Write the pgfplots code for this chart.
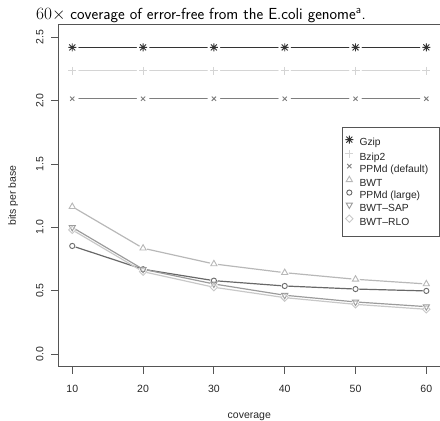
\documentclass[border=0pt]{standalone}
\usepackage{fontspec}
\setmainfont{Liberation Sans}
\usepackage{pgfplots}
\pgfplotsset{compat=1.18}

\definecolor{cGzip}{HTML}{333333}
\definecolor{cBzip}{HTML}{D4D4D4}
\definecolor{cPPMd}{HTML}{7E7E7E}
\definecolor{cBWT}{HTML}{B8B8B8}
\definecolor{cPPMdL}{HTML}{686868}
\definecolor{cSAP}{HTML}{9C9C9C}
\definecolor{cRLO}{HTML}{C8C8C8}
\definecolor{frame}{HTML}{555555}

% R's pch 8: a + and a x on top of each other
\pgfdeclareplotmark{rast}{%
  \pgfpathmoveto{\pgfqpoint{-\pgfplotmarksize}{0pt}}%
  \pgfpathlineto{\pgfqpoint{\pgfplotmarksize}{0pt}}%
  \pgfpathmoveto{\pgfqpoint{0pt}{-\pgfplotmarksize}}%
  \pgfpathlineto{\pgfqpoint{0pt}{\pgfplotmarksize}}%
  \pgfpathmoveto{\pgfqpoint{-.75\pgfplotmarksize}{-.75\pgfplotmarksize}}%
  \pgfpathlineto{\pgfqpoint{.75\pgfplotmarksize}{.75\pgfplotmarksize}}%
  \pgfpathmoveto{\pgfqpoint{-.75\pgfplotmarksize}{.75\pgfplotmarksize}}%
  \pgfpathlineto{\pgfqpoint{.75\pgfplotmarksize}{-.75\pgfplotmarksize}}%
  \pgfusepathqstroke}

\pgfplotstableread{
x  gzip  bzip2 ppmd  bwt   ppmdl sap   rlo
10 2.420 2.235 2.015 1.163 0.853 1.000 0.980
20 2.420 2.235 2.015 0.835 0.669 0.669 0.650
30 2.420 2.235 2.015 0.711 0.579 0.553 0.527
40 2.420 2.235 2.015 0.642 0.537 0.464 0.445
50 2.420 2.235 2.015 0.590 0.513 0.411 0.392
60 2.420 2.235 2.015 0.553 0.498 0.374 0.353
}\data

\pgfplotsset{
  sGzip/.style={color=cGzip, mark=rast, mark size=4pt},
  sBzip/.style={color=cBzip, mark=+, mark size=4pt},
  sPPMd/.style={color=cPPMd, mark=x, mark size=3pt},
  sBWT/.style={color=cBWT, mark=triangle, mark size=3.6pt},
  sPPMdL/.style={color=cPPMdL, mark=o, mark size=2.6pt},
  sSAP/.style={color=cSAP, mark=triangle, mark size=3.6pt, mark options={rotate=180}},
  sRLO/.style={color=cRLO, mark=square, mark size=2.6pt, mark options={rotate=45}},
  ln/.style={no marks, line width=1.2pt, forget plot},
  gap/.style={only marks, mark=*, mark size=#1, color=white, forget plot},
  pt/.style={only marks, line width=0.9pt, forget plot},
}
\newcommand{\lent}[1]{\makebox[76pt][l]{#1}}

\begin{document}
\begin{tikzpicture}
\begin{axis}[
  width=382.4pt, height=342.1pt, scale only axis,
  xmin=8, xmax=62, ymin=-0.1, ymax=2.6,
  xtick={10,20,...,60}, ytick={0,0.5,...,2.5},
  xtick pos=left, ytick pos=left, tick align=outside,
  major tick length=7pt,
  axis line style={frame, line width=0.8pt},
  major tick style={frame, line width=0.8pt},
  /pgf/number format/assume math mode=true,
  yticklabel={\pgfmathprintnumber[fixed,fixed zerofill,precision=1]{\tick}},
  tick label style={font=\fontsize{10.5}{12}\selectfont, text=black!85},
  yticklabel style={xshift=-7.5pt, rotate=90, anchor=south, inner sep=0pt},
  xticklabel style={yshift=-11.5pt, anchor=north, inner sep=0pt},
  label style={font=\fontsize{10.5}{12}\selectfont, text=black!85},
  xlabel={coverage},
  xlabel style={at={(axis description cs:0.5,-0.145)}, anchor=center},
  ylabel={bits per base},
  ylabel style={at={(axis description cs:-0.1172,0.5)}, anchor=center},
  legend style={at={(rel axis cs:0.743,0.700)}, anchor=north west,
    draw=frame, line width=0.8pt, fill=white,
    font=\fontsize{10.3}{12}\selectfont, text=black!85,
    inner xsep=2.7pt, inner ysep=8pt, row sep=0.6pt, column sep=5.2pt,
    nodes={inner sep=1pt, text height=7.5pt, text depth=2.2pt}},
  legend cell align=left,
  legend image code/.code={\draw[mark repeat=2,mark phase=2,#1]
    plot coordinates {(0pt,3.7pt)(4pt,3.7pt)(8pt,3.7pt)};},
]
\coordinate (bl) at (rel axis cs:0,0);
% lines first
\addplot[sGzip, ln]  table[y=gzip]  {\data};
\addplot[sBzip, ln]  table[y=bzip2] {\data};
\addplot[sPPMd, ln]  table[y=ppmd]  {\data};
\addplot[sBWT, ln]   table[y=bwt]   {\data};
\addplot[sPPMdL, ln] table[y=ppmdl] {\data};
\addplot[sSAP, ln]   table[y=sap]   {\data};
\addplot[sRLO, ln]   table[y=rlo]   {\data};
% gaps around the points, as with type="b"
\addplot[gap=6pt] table[y=gzip]  {\data};
\addplot[gap=6pt] table[y=bzip2] {\data};
\addplot[gap=6pt] table[y=ppmd]  {\data};
\addplot[gap=4pt] table[y=bwt]   {\data};
\addplot[gap=3.5pt] table[y=ppmdl] {\data};
\addplot[gap=3.5pt] table[y=sap]   {\data};
\addplot[gap=3.5pt] table[y=rlo]   {\data};
% points
\addplot[sGzip, pt]  table[y=gzip]  {\data};
\addplot[sBzip, pt]  table[y=bzip2] {\data};
\addplot[sPPMd, pt]  table[y=ppmd]  {\data};
\addplot[sBWT, pt]   table[y=bwt]   {\data};
\addplot[sPPMdL, pt] table[y=ppmdl] {\data};
\addplot[sSAP, pt]   table[y=sap]   {\data};
\addplot[sRLO, pt]   table[y=rlo]   {\data};
% legend
\addlegendimage{sGzip, only marks, line width=0.9pt}  \addlegendentry{\lent{Gzip}}
\addlegendimage{sBzip, only marks, line width=0.9pt}  \addlegendentry{\lent{Bzip2}}
\addlegendimage{sPPMd, only marks, line width=0.9pt}  \addlegendentry{\lent{PPMd (default)}}
\addlegendimage{sBWT, only marks, line width=0.9pt}   \addlegendentry{\lent{BWT}}
\addlegendimage{sPPMdL, only marks, line width=0.9pt} \addlegendentry{\lent{PPMd (large)}}
\addlegendimage{sSAP, only marks, line width=0.9pt}   \addlegendentry{\lent{BWT--SAP}}
\addlegendimage{sRLO, only marks, line width=0.9pt}   \addlegendentry{\lent{BWT--RLO}}
\end{axis}
\node[anchor=base west, inner sep=0pt, font=\sffamily\fontsize{16}{19}\selectfont]
  at ([shift={(-22.1pt,347.4pt)}]bl) {$60\times$ coverage of error-free from the E.coli genome\textsuperscript{a}.};
\pgfresetboundingbox
\useasboundingbox ([shift={(-58.1pt,-54.3pt)}]bl) rectangle ([shift={(381.9pt,366.7pt)}]bl);
\end{tikzpicture}
\end{document}
